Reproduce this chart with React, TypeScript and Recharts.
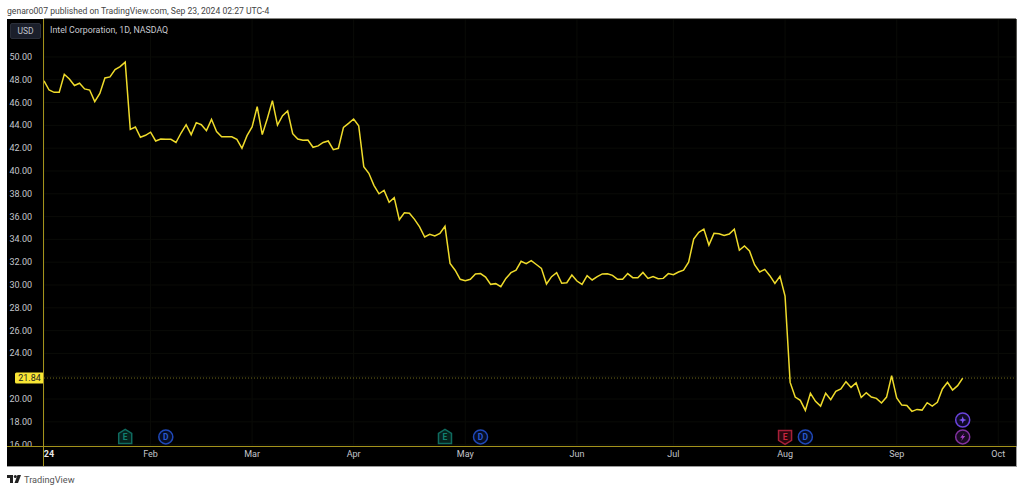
import { CartesianGrid, Line, LineChart, ReferenceDot, ReferenceLine, XAxis, YAxis } from "recharts"

const FONT = "Roboto, sans-serif"

const closes = [
  47.9, 47.1, 46.9, 46.9, 48.48, 48.07, 47.5, 47.7, 47.2, 47.1, 46.08, 46.8, 48.16, 48.25, 48.89, 49.15, 49.55,
  43.65, 43.86, 42.96, 43.13, 43.4, 42.63, 42.8, 42.78, 42.78, 42.5, 43.33, 44.06, 43.19, 44.24, 44.06, 43.54, 44.53,
  43.45, 43.0, 43.0, 43.0, 42.78, 41.99, 43.1, 43.86, 45.64, 43.19, 44.6, 46.17, 44.03, 44.85, 45.26, 43.27, 42.8,
  42.69, 42.72, 42.08, 42.2, 42.5, 42.63, 41.87, 41.99, 43.83, 44.18, 44.56, 43.97, 40.38, 39.8, 38.74, 38.0, 38.3,
  37.25, 37.66, 35.73, 36.34, 36.29, 35.76, 35.1, 34.21, 34.44, 34.3, 34.53, 35.15, 31.9, 31.3, 30.5, 30.38, 30.5,
  30.97, 31.0, 30.7, 30.06, 30.12, 29.85, 30.58, 31.08, 31.3, 32.08, 31.87, 32.13, 31.8, 31.46, 30.09, 30.73, 31.08,
  30.15, 30.2, 30.88, 30.35, 30.06, 30.82, 30.44, 30.73, 30.97, 30.99, 30.85, 30.5, 30.5, 31.0, 30.64, 30.64, 31.1,
  30.58, 30.75, 30.55, 30.58, 31.0, 30.9, 31.14, 31.3, 32.0, 34.03, 34.62, 34.9, 33.5, 34.53, 34.5, 34.35, 34.47,
  34.9, 33.05, 33.42, 32.98, 31.78, 31.14, 31.37, 30.82, 30.14, 30.76, 29.03, 21.46, 20.17, 19.88, 19.0, 20.5, 19.8,
  19.38, 20.5, 19.94, 20.67, 20.88, 21.52, 21.02, 21.43, 20.14, 20.55, 20.17, 20.06, 19.65, 20.17, 22.05, 20.1,
  19.47, 19.44, 18.92, 19.09, 19.03, 19.68, 19.38, 19.71, 20.88, 21.46, 20.79, 21.17, 21.84,
]

const lastPrice = 21.84
const priceTicks = [16, 18, 20, 22, 24, 26, 28, 30, 32, 34, 36, 38, 40, 42, 44, 46, 48, 50]
const monthTicks = [0, 21, 41, 61, 83, 105, 124, 146, 168, 188]
const monthLabels = ["24", "Feb", "Mar", "Apr", "May", "Jun", "Jul", "Aug", "Sep", "Oct"]

// session index, price level the icon sits at, icon kind
const eventIndex = [16, 24, 79, 86, 146, 150, 181, 181]
const eventLevel = [16.68, 16.68, 16.68, 16.68, 16.68, 16.68, 18.16, 16.68]
const eventKind = ["earnGood", "div", "earnGood", "div", "earnBad", "div", "star", "bolt"]

const data = closes.map((close, i) => ({ i, close }))

const GRID = "#0a0b07"
const LABEL = "#c4c6cc"
const PRICE = "#efdb2b"
const RULE = "#a3921b"

function YTick({ x, y, payload }: any) {
  // the 22.00 label is covered by the last price badge on the original
  if (payload.value === 22) return null
  return (
    <text x={x} y={y + 3} textAnchor="end" fontFamily={FONT} fontSize={9} fill={LABEL} clipPath="url(#priceClip)">
      {payload.value.toFixed(2)}
    </text>
  )
}

function XTick({ x, y, index }: any) {
  const first = index === 0
  return (
    <text
      x={first ? x + 5 : x}
      y={y + 3}
      textAnchor="middle"
      fontFamily={FONT}
      fontSize={9}
      fontWeight={first ? 700 : 400}
      fill={first ? "#e8e8ea" : LABEL}
    >
      {monthLabels[index]}
    </text>
  )
}

function PriceBadge({ viewBox }: any) {
  const y = viewBox.y
  return (
    <g>
      <rect x={15} y={y - 5.5} width={29} height={11} rx={1.5} fill="#f8e535" />
      <text x={29.5} y={y + 3.2} textAnchor="middle" fontFamily={FONT} fontSize={9} fill="#222">
        {lastPrice.toFixed(2)}
      </text>
    </g>
  )
}

function EventIcon({ cx, cy, kind }: any) {
  const letter = (t: string, c: string) => (
    <text x={cx} y={cy + 3} textAnchor="middle" fontFamily={FONT} fontSize={8.5} fontWeight={700} fill={c}>
      {t}
    </text>
  )
  if (kind === "earnGood") {
    const c = "#0f6b5f"
    return (
      <g>
        <path
          d={`M${cx} ${cy - 7.5}L${cx + 6.5} ${cy - 3.5}V${cy + 6.5}H${cx - 6.5}V${cy - 3.5}Z`}
          fill="#06211d"
          stroke={c}
          strokeWidth={1.5}
        />
        {letter("E", "#118172")}
      </g>
    )
  }
  if (kind === "earnBad") {
    const c = "#a61f38"
    return (
      <g>
        <path
          d={`M${cx - 6.5} ${cy - 6.5}H${cx + 6.5}V${cy + 3.5}L${cx} ${cy + 7.5}L${cx - 6.5} ${cy + 3.5}Z`}
          fill="#2a070e"
          stroke={c}
          strokeWidth={1.5}
        />
        {letter("E", "#c9263f")}
      </g>
    )
  }
  if (kind === "div") {
    return (
      <g>
        <circle cx={cx} cy={cy} r={7} fill="#060d24" stroke="#1f48b8" strokeWidth={1.5} />
        {letter("D", "#2a5ad0")}
      </g>
    )
  }
  if (kind === "star") {
    return (
      <g>
        <circle cx={cx} cy={cy} r={7} fill="#0f0a26" stroke="#6a43dc" strokeWidth={1.5} />
        <path
          d={`M${cx} ${cy - 3.8}L${cx + 1} ${cy - 1}L${cx + 3.8} ${cy}L${cx + 1} ${cy + 1}L${cx} ${cy + 3.8}L${cx - 1} ${cy + 1}L${cx - 3.8} ${cy}L${cx - 1} ${cy - 1}Z`}
          fill="#7d55f0"
        />
      </g>
    )
  }
  return (
    <g>
      <circle cx={cx} cy={cy} r={7} fill="#190a22" stroke="#81319e" strokeWidth={1.5} />
      <path
        d={`M${cx + 1.5} ${cy - 4}L${cx - 2.5} ${cy + 0.8}H${cx - 0.2}L${cx - 1.5} ${cy + 4}L${cx + 2.5} ${cy - 0.8}H${cx + 0.2}Z`}
        fill="#a83fc8"
      />
    </g>
  )
}

export default function App() {
  return (
    <div
      style={{
        position: "absolute",
        left: 0,
        top: 0,
        width: 1024,
        height: 491,
        background: "#fff",
        overflow: "hidden",
        fontFamily: FONT,
      }}
    >
      <div style={{ position: "absolute", left: 7, top: 6, fontSize: 8.6, color: "#444", whiteSpace: "nowrap" }}>
        genaro007 published on TradingView.com, Sep 23, 2024 02:27 UTC-4
      </div>
      <div
        style={{
          position: "absolute",
          left: 7,
          top: 19,
          width: 1009,
          height: 447,
          background: "#000",
          borderRight: "1px solid #9a9a9a",
          borderBottom: "1px solid #9a9a9a",
        }}
      />
      <div style={{ position: "absolute", left: 0, top: 0 }}>
        <LineChart width={1024} height={491} data={data} margin={{ top: 19, right: 8, bottom: 25, left: 7 }}>
          <defs>
            <clipPath id="priceClip">
              <rect x={0} y={0} width={44} height={446} />
            </clipPath>
          </defs>
          <CartesianGrid stroke={GRID} strokeWidth={1} />
          <XAxis
            dataKey="i"
            type="number"
            domain={[0, 191.5]}
            ticks={monthTicks}
            interval={0}
            axisLine={false}
            tickLine={false}
            height={20}
            tick={<XTick />}
          />
          <YAxis
            type="number"
            domain={[15.88, 53.33]}
            allowDataOverflow
            ticks={priceTicks}
            interval={0}
            width={37}
            axisLine={false}
            tickLine={false}
            tickMargin={6}
            tick={<YTick />}
          />
          <ReferenceLine
            y={lastPrice}
            stroke="#6d6a1a"
            strokeWidth={1}
            strokeDasharray="1 2"
            label={<PriceBadge />}
          />
          <Line
            type="linear"
            dataKey="close"
            stroke={PRICE}
            strokeWidth={1.5}
            dot={false}
            isAnimationActive={false}
          />
          {eventIndex.map((idx, n) => (
            <ReferenceDot
              key={n}
              x={idx}
              y={eventLevel[n]}
              ifOverflow="visible"
              shape={(p: any) => <EventIcon cx={p.cx} cy={p.cy} kind={eventKind[n]} />}
            />
          ))}
        </LineChart>
      </div>
      {/* user-drawn rules crossing the whole pane */}
      <div style={{ position: "absolute", left: 7, top: 446, width: 1009, height: 1, background: RULE }} />
      <div style={{ position: "absolute", left: 43, top: 19, width: 1, height: 447, background: RULE }} />
      <div
        style={{
          position: "absolute",
          left: 10,
          top: 23,
          width: 31,
          height: 16,
          boxSizing: "border-box",
          background: "#1b1f2b",
          border: "1px solid #2a2e39",
          borderRadius: 2,
          color: "#c0c3cc",
          fontSize: 8.5,
          lineHeight: "14px",
          textAlign: "center",
        }}
      >
        USD
      </div>
      <div
        style={{ position: "absolute", left: 50, top: 25, fontSize: 8.8, color: "#c8cad0", whiteSpace: "nowrap" }}
      >
        Intel Corporation, 1D, NASDAQ
      </div>
      <svg style={{ position: "absolute", left: 7, top: 475 }} width={14} height={9} viewBox="0 0 14 9">
        <path d="M0 0H6V8H3V3H0Z M7.5 8L10.5 0H14L11 8Z" fill="#222" />
        <circle cx={8.3} cy={1.6} r={1.5} fill="#222" />
      </svg>
      <div
        style={{ position: "absolute", left: 24, top: 474, fontSize: 9.2, color: "#555", whiteSpace: "nowrap" }}
      >
        TradingView
      </div>
    </div>
  )
}
